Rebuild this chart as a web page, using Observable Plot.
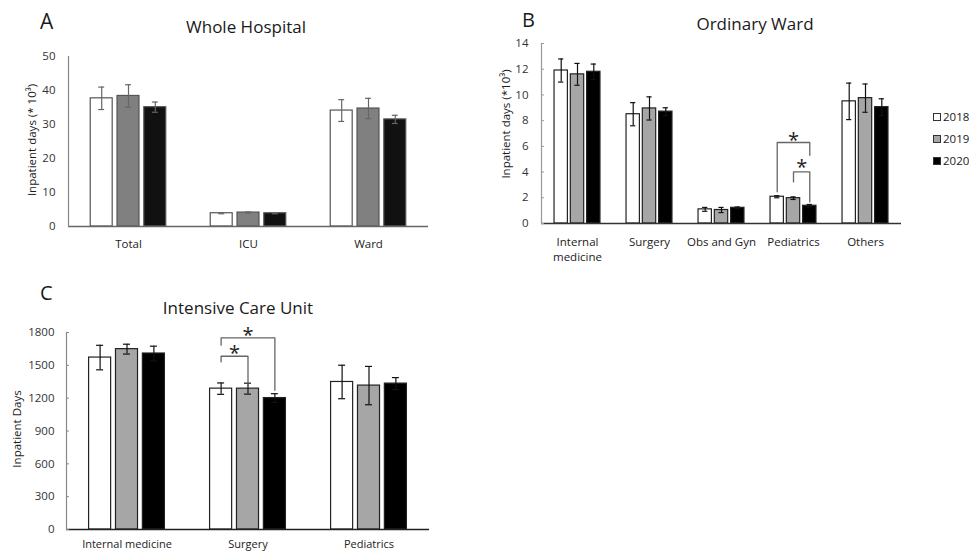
<!DOCTYPE html>
<html><head><meta charset="utf-8">
<script src="https://cdn.jsdelivr.net/npm/d3@7"></script>
<script src="https://cdn.jsdelivr.net/npm/@observablehq/plot@0.6"></script>
<style>
html,body{margin:0;padding:0;background:#fff;overflow:hidden;}
#wrap{position:relative;width:969px;height:551px;font-family:"Open Sans",sans-serif;color:#1a1a1a;overflow:hidden;}
.abs{position:absolute;white-space:nowrap;line-height:1;}
.ylab{position:absolute;white-space:nowrap;line-height:1;transform:translate(-50%,-50%) rotate(-90deg);}
.panel{position:absolute;}
.leg{position:absolute;left:933px;width:8px;height:8px;border:1px solid #333;box-sizing:border-box;}
.legt{position:absolute;left:943px;font-size:11.5px;line-height:1;}
</style></head><body><div id="wrap"></div>
<script>
const years = [2018, 2019, 2020];

// Panel A: Whole Hospital (inpatient days, * 10^3)
const catsA = ["Total", "ICU", "Ward"];
const meanA = [[37.7, 38.4, 35.1], [3.9, 4.1, 3.9], [34.1, 34.7, 31.5]];
const errA  = [[3.3, 3.3, 1.5], [0.15, 0.15, 0.15], [3.2, 3.0, 1.2]];
const ticksA = [0, 10, 20, 30, 40, 50];

// Panel B: Ordinary Ward (inpatient days, * 10^3)
const catsB = ["Internal medicine", "Surgery", "Obs and Gyn", "Pediatrics", "Others"];
const labelsB = ["Internal\nmedicine", "Surgery", "Obs and Gyn", "Pediatrics", "Others"];
const meanB = [[11.9, 11.6, 11.8], [8.5, 8.95, 8.7], [1.1, 1.05, 1.22], [2.08, 1.97, 1.38], [9.5, 9.75, 9.05]];
const errB  = [[0.9, 0.85, 0.6], [0.9, 0.9, 0.3], [0.15, 0.2, 0.06], [0.08, 0.1, 0.1], [1.42, 1.1, 0.65]];
const ticksB = [0, 2, 4, 6, 8, 10, 12, 14];
const bracketsB = [
  {cat: "Pediatrics", from: 2018, to: 2020, top: 6.3, fromEnd: 2.46, toEnd: 5.3, star: 6.86},
  {cat: "Pediatrics", from: 2019, to: 2020, top: 4.01, fromEnd: 3.23, toEnd: 1.68, star: 4.74}
];

// Panel C: Intensive Care Unit (inpatient days)
const catsC = ["Internal medicine", "Surgery", "Pediatrics"];
const meanC = [[1571, 1648, 1608], [1287, 1287, 1201], [1348, 1315, 1333]];
const errC  = [[112, 45, 67], [52, 50, 40], [153, 175, 55]];
const ticksC = [0, 300, 600, 900, 1200, 1500, 1800];
const bracketsC = [
  {cat: "Surgery", from: 2018, to: 2020, top: 1751, fromEnd: 1684, toEnd: 1272, star: 1821},
  {cat: "Surgery", from: 2018, to: 2019, top: 1583, fromEnd: 1531, toEnd: 1333, star: 1657}
];

const wrap = document.getElementById("wrap");
function addDiv(cls, text, css) {
  const d = document.createElement("div");
  d.className = cls; d.textContent = text;
  Object.assign(d.style, css);
  wrap.appendChild(d);
  return d;
}

function panel(o) {
  const rows = o.cats.flatMap((c, i) => years.map((y, j) => ({cat: c, year: y, v: o.mean[i][j], e: o.err[i][j]})));
  const labelOf = new Map(o.cats.map((c, i) => [c, o.labels ? o.labels[i] : c]));
  const pts = (o.brackets || []).flatMap((b, k) => [
    {id: k, cat: b.cat, x: b.from, y: b.fromEnd},
    {id: k, cat: b.cat, x: b.from, y: b.top},
    {id: k, cat: b.cat, x: b.to, y: b.top},
    {id: k, cat: b.cat, x: b.to, y: b.toEnd}
  ]);
  const hw = o.halfWidth, cap = o.cap;
  const marks = [
    Plot.rectY(rows, {fx: "cat", x1: d => d.year - hw, x2: d => d.year + hw, y1: 0, y2: "v", fill: "year", stroke: o.barStroke, strokeWidth: 1.2}),
    Plot.ruleX(rows, {fx: "cat", x: "year", y1: d => d.v - d.e, y2: d => d.v + d.e, stroke: o.errColor, strokeWidth: 1.2}),
    Plot.ruleY(rows, {fx: "cat", y: d => d.v + d.e, x1: d => d.year - cap, x2: d => d.year + cap, stroke: o.errColor, strokeWidth: 1.2}),
    Plot.ruleY(rows, {fx: "cat", y: d => d.v - d.e, x1: d => d.year - cap, x2: d => d.year + cap, stroke: o.errColor, strokeWidth: 1.2}),
    Plot.ruleY([0], {stroke: o.xAxisColor, strokeWidth: 1.3}),
    Plot.frame({anchor: "left", facetAnchor: "left", stroke: o.yAxisColor, strokeWidth: 1.2}),
    Plot.axisY({ticks: o.ticks, tickSize: 0, tickPadding: o.tickPadY, label: null, fill: "#333", tickFormat: d => String(d)}),
    Plot.axisFx({anchor: "bottom", tickSize: 0, tickPadding: o.tickPadX, label: null, tickFormat: d => labelOf.get(d), lineHeight: 1.35, fill: "#222", fontSize: o.fxFont})
  ];
  if (o.yTicks) marks.push(Plot.axisY({ticks: o.ticks, tickSize: -3, tickFormat: () => "", label: null, stroke: o.yAxisColor}));
  if (pts.length) {
    marks.push(Plot.line(pts, {fx: "cat", x: "x", y: "y", z: "id", stroke: "#666", strokeWidth: 1.3}));
    marks.push(Plot.text(o.brackets, {fx: "cat", x: d => (d.from + d.to) / 2, y: "star", text: () => "*", fontSize: 20, lineAnchor: "middle", dy: 5, fill: "#222"}));
  }
  const svg = Plot.plot({
    width: o.width, height: o.height,
    marginLeft: o.ml, marginRight: o.mr, marginTop: o.mt, marginBottom: o.mb,
    style: {fontFamily: "'Open Sans', sans-serif", fontSize: o.fontSize, background: "transparent", color: "#222"},
    fx: {domain: o.cats, padding: 0, label: null},
    x: {domain: o.xDomain, axis: null},
    y: {domain: [0, o.yMax], axis: null},
    color: {domain: years, range: o.fills},
    marks
  });
  const holder = document.createElement("div");
  holder.className = "panel";
  holder.style.left = o.left + "px"; holder.style.top = o.top + "px";
  holder.appendChild(svg);
  wrap.appendChild(holder);
}

panel({cats: catsA, mean: meanA, err: errA, ticks: ticksA, yMax: 50,
  left: 0, top: 0, width: 440, height: 258, ml: 68, mr: 12, mt: 56, mb: 32,
  xDomain: [2016.76, 2021.24], halfWidth: 0.41, cap: 0.11,
  fills: ["#ffffff", "#808080", "#111111"], barStroke: "#555", errColor: "#666",
  xAxisColor: "#666", yAxisColor: "#888", tickPadY: 13, tickPadX: 10, fontSize: "11.5px", fxFont: 11.5, yTicks: false});

panel({cats: catsB, labels: labelsB, mean: meanB, err: errB, ticks: ticksB, yMax: 14, brackets: bracketsB,
  left: 470, top: 0, width: 440, height: 268, ml: 69, mr: 7, mt: 43, mb: 45,
  xDomain: [2016.79, 2021.21], halfWidth: 0.41, cap: 0.16,
  fills: ["#ffffff", "#a6a6a6", "#000000"], barStroke: "#222", errColor: "#111",
  xAxisColor: "#333", yAxisColor: "#999", tickPadY: 13, tickPadX: 11, fontSize: "11.5px", fxFont: 11.5, yTicks: true});

panel({cats: catsC, mean: meanC, err: errC, ticks: ticksC, yMax: 1800, brackets: bracketsC,
  left: 0, top: 270, width: 440, height: 281, ml: 66, mr: 11, mt: 62, mb: 22,
  xDomain: [2016.75, 2021.25], halfWidth: 0.41, cap: 0.13,
  fills: ["#ffffff", "#a6a6a6", "#000000"], barStroke: "#222", errColor: "#111",
  xAxisColor: "#222", yAxisColor: "#888", tickPadY: 12, tickPadX: 8, fontSize: "11.5px", fxFont: 11, yTicks: true});

// Panel letters and titles
addDiv("abs", "A", {left: "40px", top: "11px", fontSize: "21px"});
addDiv("abs", "Whole Hospital", {left: "246px", top: "18px", fontSize: "17px", transform: "translateX(-50%)"});
addDiv("abs", "B", {left: "522px", top: "10px", fontSize: "20px"});
addDiv("abs", "Ordinary Ward", {left: "755px", top: "15px", fontSize: "17px", transform: "translateX(-50%)"});
addDiv("abs", "C", {left: "40px", top: "283px", fontSize: "20px"});
addDiv("abs", "Intensive Care Unit", {left: "238px", top: "299px", fontSize: "17px", transform: "translateX(-50%)"});

// Y axis labels
addDiv("ylab", "Inpatient days (* 10³)", {left: "32px", top: "140px", fontSize: "11.5px"});
addDiv("ylab", "Inpatient days (*10³)", {left: "506px", top: "124px", fontSize: "11.5px"});
addDiv("ylab", "Inpatient Days", {left: "17px", top: "429px", fontSize: "11.5px"});

// Legend
const legendFills = ["#ffffff", "#a6a6a6", "#000000"];
const legendTops = [113, 135, 157];
years.forEach((y, i) => {
  addDiv("leg", "", {top: legendTops[i] + "px", background: legendFills[i]});
  addDiv("legt", String(y), {top: (legendTops[i] - 2) + "px"});
});
</script></body></html>
